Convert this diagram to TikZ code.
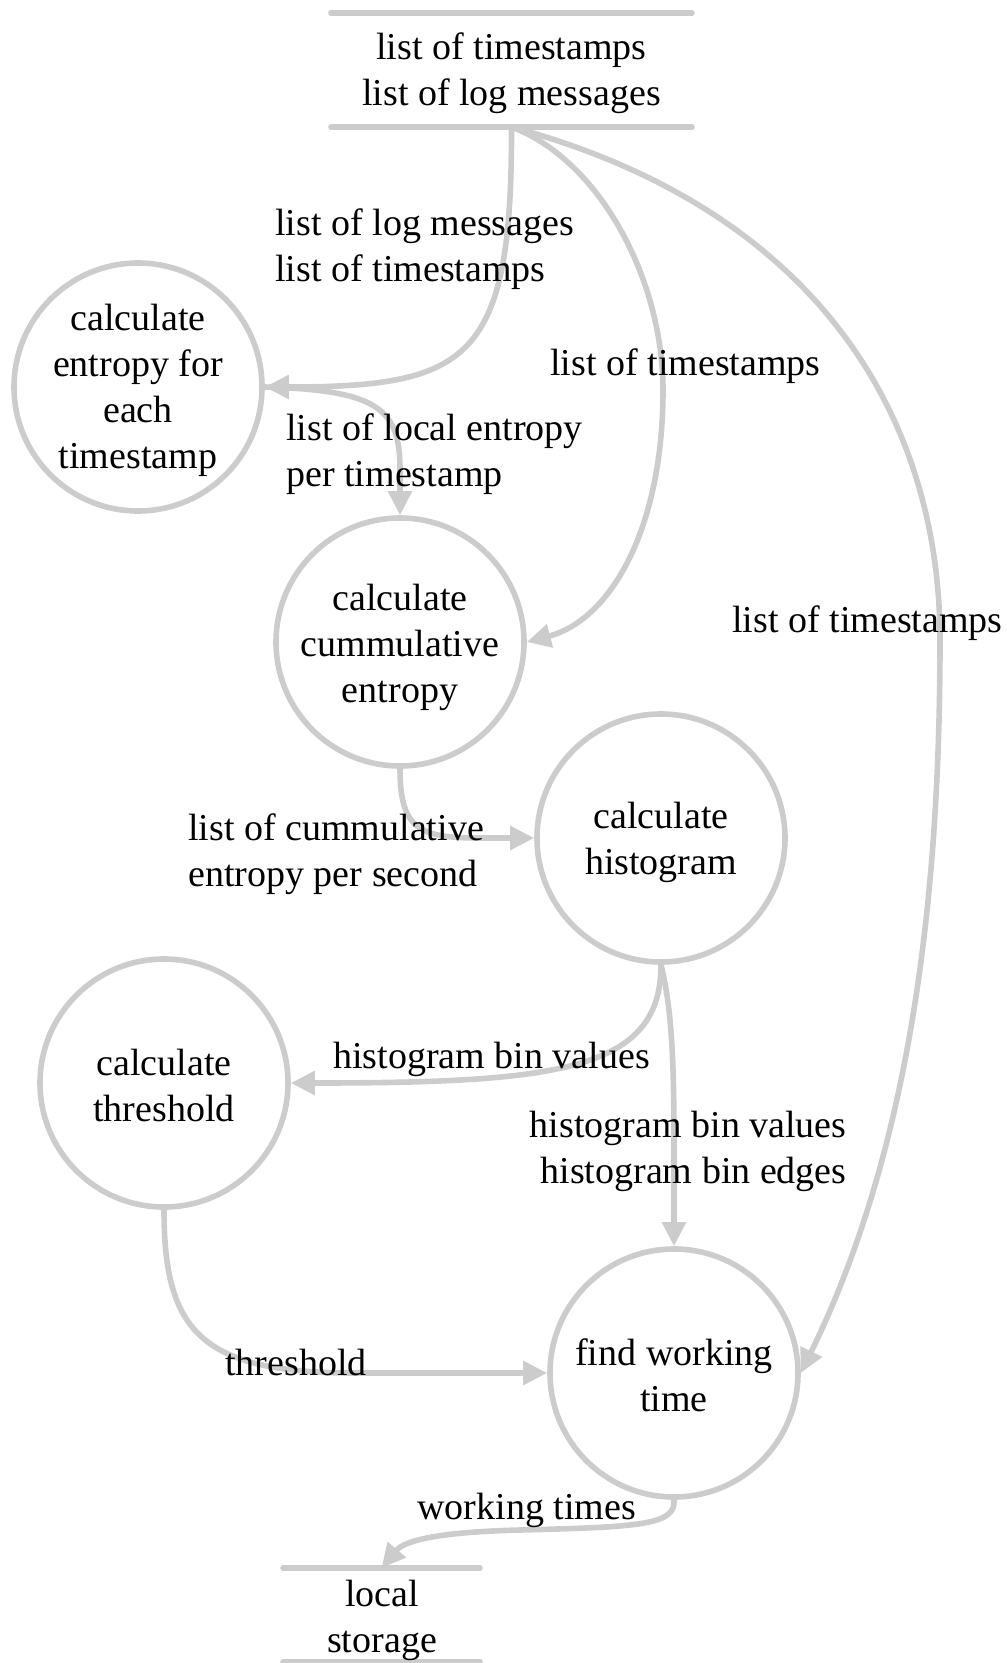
\documentclass[tikz,border=0pt]{standalone}
\usepackage{fontspec}
\setmainfont{Liberation Serif}
\usetikzlibrary{arrows.meta}
\definecolor{edgegray}{RGB}{204,204,204}
\begin{document}
\begin{tikzpicture}[x=0.5pt,y=-0.5pt,
  txt/.style={font=\fontsize{19}{23}\selectfont, inner sep=0pt, text=black},
  proc/.style={circle, draw=edgegray, line width=2.8pt, minimum size=124pt, inner sep=0pt},
  store/.style={rectangle, inner sep=0pt, outer sep=0pt},
  storeline/.style={draw=edgegray, line width=2.8pt, line cap=round},
  flow/.style={draw=edgegray, line width=2.8pt, -{Triangle[length=12pt,width=11.5pt]}}
]
\useasboundingbox (0,0) rectangle (1006,1663);

% data stores
\node[store, minimum width=180.5pt, minimum height=57pt] (src) at (511.5,70) {};
\draw[storeline] (src.north west) -- (src.north east);
\draw[storeline] (src.south west) -- (src.south east);
\node[txt, align=center] (srctext) at (511.5,73) {list of timestamps\\list of log messages};

\node[store, minimum width=98.5pt, minimum height=47pt] (dst) at (381.5,1615) {};
\draw[storeline] (dst.north west) -- (dst.north east);
\draw[storeline] (dst.south west) -- (dst.south east);
\node[txt, align=center] (dsttext) at (382,1620.5) {local\\storage};

% processes
\node[proc] (c1) at (138,387) {};
\node[txt, align=center] (c1text) at (138,390) {calculate\\entropy for\\each\\timestamp};
\node[proc] (c2) at (400,642) {};
\node[txt, align=center] (c2text) at (400,647) {calculate\\cummulative\\entropy};
\node[proc] (c3) at (661,838) {};
\node[txt, align=center] (c3text) at (661,842) {calculate\\histogram};
\node[proc] (c4) at (164,1083) {};
\node[txt, align=center] (c4text) at (164,1085) {calculate\\threshold};
\node[proc] (c5) at (674,1373) {};
\node[txt, align=center] (c5text) at (674,1375) {find working\\time};

% data flows
\draw[flow] (src.south) .. controls (512,360) and (470,387) .. (c1.east);
\draw[flow] (c1.east) .. controls (380,390) and (400,410) .. (400,470) -- (c2.north);
\draw[flow] (src.south) .. controls (600,160) and (663,280) .. (663,390)
            .. controls (663,530) and (610,620) .. (c2.east);
\draw[flow] (src.south) .. controls (820,210) and (940,420) .. (940,640)
            .. controls (940,900) and (910,1150) .. (c5.east);
\draw[flow] (c2.south) .. controls (400,830) and (420,838) .. (480,838) -- (c3.west);
\draw[flow] (c3.south) .. controls (661,1070) and (560,1083) .. (c4.east);
\draw[flow] (c3.south) .. controls (672,1010) and (674,1060) .. (674,1150) -- (c5.north);
\draw[flow] (c4.south) .. controls (164,1330) and (200,1372) .. (350,1373) -- (c5.west);
\draw[flow] (c5.south) .. controls (676,1525) and (640,1527) .. (520,1530)
            .. controls (440,1532) and (405,1540) .. (dst.north);

% flow labels
\node[txt, align=left, anchor=west] (l1) at (275,249.5) {list of log messages\\list of timestamps};
\node[txt, align=left, anchor=west] (l2) at (286,454.5) {list of local entropy\\per timestamp};
\node[txt, anchor=base west] (l3) at (550,376) {list of timestamps};
\node[txt, anchor=base west] (l4) at (732,632) {list of timestamps};
\node[txt, align=left, anchor=west] (l5) at (188,854) {list of cummulative\\entropy per second};
\node[txt, anchor=base west] (l6) at (333,1068) {histogram bin values};
\node[txt, align=right, anchor=east] (l7) at (847,1151) {histogram bin values\\histogram bin edges};
\node[txt, anchor=base west] (l8) at (225,1375) {threshold};
\node[txt, anchor=base west] (l9) at (417,1519) {working times};
\end{tikzpicture}
\end{document}
